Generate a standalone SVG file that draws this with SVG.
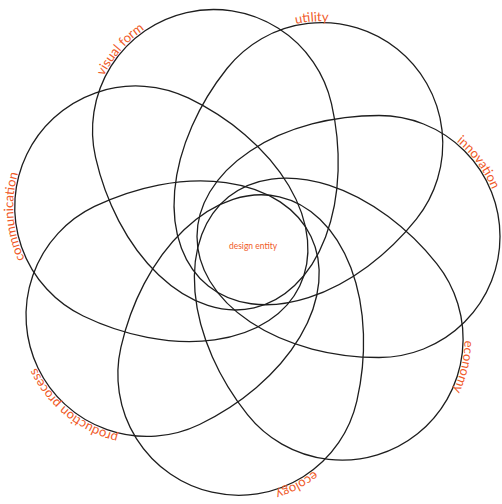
<svg xmlns="http://www.w3.org/2000/svg" xmlns:xlink="http://www.w3.org/1999/xlink" width="502" height="504" viewBox="0 0 502 504">
<style>
.petal{fill:none;stroke:#1e1e1e;stroke-width:1.3}
.lbl{font-family:Lato,"Open Sans","Liberation Sans",sans-serif;font-size:13px;fill:#f05a28}
.ctr{font-family:Lato,"Open Sans","Liberation Sans",sans-serif;font-size:8.5px;fill:#f05a28;text-anchor:middle}
</style>
<defs>
<path id="arc" d="M 202.4,-107.9 A 122.5 122.5 0 0 1 126.7,109.5"/>
</defs>
<rect width="502" height="504" fill="#ffffff"/>
<g id="connectors"/>
<g id="innovation" transform="translate(254,249.5) rotate(0)">
<path class="petal" d="M -57,-13 A 182 121 0 0 1 125,-134 A 121 121 0 0 1 125,108 A 182 121 0 0 1 -57,-13 Z"/>
<text class="lbl"><textPath xlink:href="#arc" href="#arc">innovation</textPath></text>
</g>
<g id="economy" transform="translate(254,249.5) rotate(51.4286)">
<path class="petal" d="M -57,-13 A 182 121 0 0 1 125,-134 A 121 121 0 0 1 125,108 A 182 121 0 0 1 -57,-13 Z"/>
<text class="lbl"><textPath xlink:href="#arc" href="#arc">economy</textPath></text>
</g>
<g id="ecology" transform="translate(254,249.5) rotate(102.857)">
<path class="petal" d="M -57,-13 A 182 121 0 0 1 125,-134 A 121 121 0 0 1 125,108 A 182 121 0 0 1 -57,-13 Z"/>
<text class="lbl"><textPath xlink:href="#arc" href="#arc">ecology</textPath></text>
</g>
<g id="production-process" transform="translate(254,249.5) rotate(154.286)">
<path class="petal" d="M -57,-13 A 182 121 0 0 1 125,-134 A 121 121 0 0 1 125,108 A 182 121 0 0 1 -57,-13 Z"/>
<text class="lbl"><textPath xlink:href="#arc" href="#arc">production process</textPath></text>
</g>
<g id="communication" transform="translate(254,249.5) rotate(205.714)">
<path class="petal" d="M -57,-13 A 182 121 0 0 1 125,-134 A 121 121 0 0 1 125,108 A 182 121 0 0 1 -57,-13 Z"/>
<text class="lbl"><textPath xlink:href="#arc" href="#arc">communication</textPath></text>
</g>
<g id="visual-form" transform="translate(254,249.5) rotate(257.143)">
<path class="petal" d="M -57,-13 A 182 121 0 0 1 125,-134 A 121 121 0 0 1 125,108 A 182 121 0 0 1 -57,-13 Z"/>
<text class="lbl"><textPath xlink:href="#arc" href="#arc">visual form</textPath></text>
</g>
<g id="utility" transform="translate(254,249.5) rotate(308.571)">
<path class="petal" d="M -57,-13 A 182 121 0 0 1 125,-134 A 121 121 0 0 1 125,108 A 182 121 0 0 1 -57,-13 Z"/>
<text class="lbl"><textPath xlink:href="#arc" href="#arc">utility</textPath></text>
</g>
<g id="design-entity">
<text class="ctr" x="253" y="248.5">design entity</text>
</g>
</svg>
